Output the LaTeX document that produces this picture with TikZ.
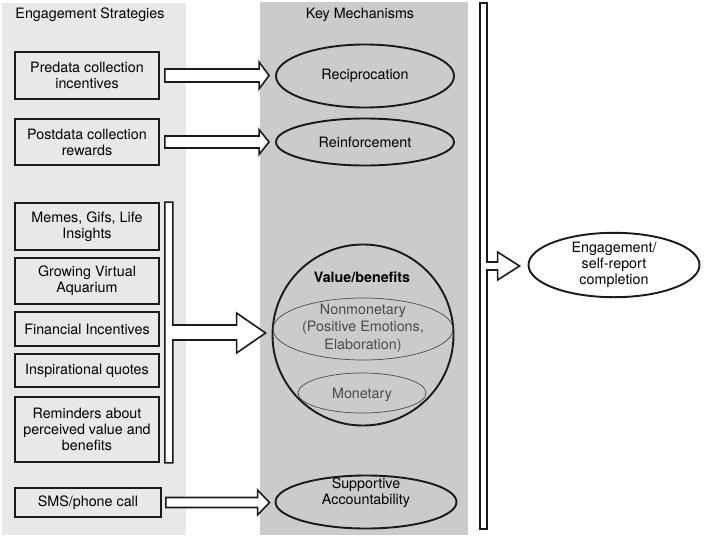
\documentclass[tikz,border=0pt]{standalone}
\usepackage{fontspec}
\setmainfont{TeX Gyre Heros}
\usetikzlibrary{shapes.geometric,calc}
\definecolor{lpanel}{HTML}{E8E8E8}
\definecolor{mpanel}{HTML}{CBCBCB}
\definecolor{ink}{HTML}{1A1A1A}
\definecolor{softink}{HTML}{4A4A4A}
\tikzset{
  txt/.style={font=\fontsize{14.3}{16}\selectfont, align=center, inner sep=0pt},
  stratbox/.style={txt, draw=ink, line width=1.8pt, fill=lpanel, minimum width=144pt},
  mech/.style={txt, ellipse, draw=ink, line width=1.9pt},
  innerell/.style={ellipse, draw=softink, line width=0.7pt, inner sep=0pt},
  blockarrow/.style={draw=ink, line width=1.6pt, fill=white, line join=miter},
}
\newcommand\flatarrow[5]{%
  \draw[blockarrow] let \p1=(#1), \p2=(#2) in
    (\x1,\y1+#3) -- (\x2-#5,\y1+#3) -- (\x2-#5,\y1+#4) -- (\x2,\y1)
    -- (\x2-#5,\y1-#4) -- (\x2-#5,\y1-#3) -- (\x1,\y1-#3) -- cycle;}
\begin{document}
\begin{tikzpicture}[x=1pt,y=-1pt]
\useasboundingbox (0,0) rectangle (706,535);
\fill[lpanel] (2,3) rectangle (186,535);
\fill[mpanel] (260,2) rectangle (468,535);
\node[txt] (t1) at (90,15) {Engagement Strategies};
\node[txt] (t2) at (360,15) {Key Mechanisms};

% strategies
\node[stratbox, minimum height=47pt] (b1) at (87,75.5) {Predata collection\\incentives};
\node[stratbox, minimum height=46pt] (b2) at (87,142) {Postdata collection\\rewards};
\node[stratbox, minimum height=47pt] (b3) at (87,226.5) {Memes, Gifs, Life\\Insights};
\node[stratbox, minimum height=46pt] (b4) at (87,281) {Growing Virtual\\Aquarium};
\node[stratbox, minimum height=34pt] (b5) at (87,329) {Financial Incentives};
\node[stratbox, minimum height=33pt] (b6) at (87,370.5) {Inspirational quotes};
\node[stratbox, minimum height=65pt] (b7) at (87,429.5) {Reminders about\\perceived value and\\benefits};
\node[stratbox, minimum height=29pt, minimum width=146pt] (b8) at (88,502.5) {SMS/phone call};

% mechanisms
\node[mech, minimum width=178pt, minimum height=63pt] (rec) at (365,76) {Reciprocation};
\node[mech, minimum width=178pt, minimum height=47pt] (rei) at (365,142) {Reinforcement};
\node[mech, minimum width=181pt, minimum height=53pt] (sup) at (366,502) {};
\node[txt] (supt) at (366,493) {Supportive\\Accountability};

% value sphere
\node[circle, draw=ink, line width=1.9pt, minimum size=181pt, inner sep=0pt] (sph) at (363,335) {};
\node[innerell, minimum width=180pt, minimum height=62pt] (non) at (363,329) {};
\node[innerell, minimum width=128pt, minimum height=40pt] (mon) at (362,393) {};
\node[txt, font=\fontsize{14.3}{16}\selectfont\bfseries] (vb) at (362,277) {Value/benefits};
\node[txt, text=softink, font=\fontsize{14.3}{17.5}\selectfont] (nont) at (363,328) {Nonmonetary\\(Positive Emotions,\\Elaboration)};
\node[txt, text=softink] (mont) at (362,395) {Monetary};

% outcome
\node[mech, fill=white, minimum width=171pt, minimum height=64pt] (eng) at (614,265) {Engagement/\\self-report\\completion};

% arrows
\coordinate (a1s) at ([xshift=5pt]b1.east);
\coordinate (a1e) at ([xshift=-6pt]rec.west);
\flatarrow{a1s}{a1e}{6.5pt}{13.5pt}{10pt}
\coordinate (a2s) at ([xshift=5pt]b2.east);
\coordinate (a2e) at ([xshift=-6pt]rei.west);
\flatarrow{a2s}{a2e}{6pt}{12.5pt}{10pt}
\coordinate (a3s) at ([xshift=4pt]b8.east);
\coordinate (a3e) at ([xshift=-5pt]sup.west);
\flatarrow{a3s}{a3e}{5pt}{12.5pt}{12pt}

% bracket arrow to value sphere
\draw[blockarrow] let \p1=(b3.north east), \p2=(b7.south east), \p3=(sph.west) in
  (\x1+5pt,\y1) -- (\x1+13pt,\y1) -- (\x1+13pt,\y3+10pt) -- (\x3-35pt,\y3+10pt)
  -- (\x3-35pt,\y3+22pt) -- (\x3-6pt,\y3+2pt) -- (\x3-35pt,\y3-18pt)
  -- (\x3-35pt,\y3-5pt) -- (\x1+13pt,\y3-5pt) -- (\x1+13pt,\y2)
  -- (\x1+5pt,\y2) -- cycle;

% right bar arrow to outcome
\draw[blockarrow] let \p1=(eng.west) in
  (480,3) -- (487,3) -- (487,262) -- (\x1-30pt,\y1+3pt) -- (\x1-30pt,\y1+13pt)
  -- (\x1-8pt,\y1-1pt) -- (\x1-30pt,\y1-15pt) -- (\x1-30pt,\y1-5pt)
  -- (487,270) -- (487,529) -- (480,529) -- cycle;
\end{tikzpicture}
\end{document}
